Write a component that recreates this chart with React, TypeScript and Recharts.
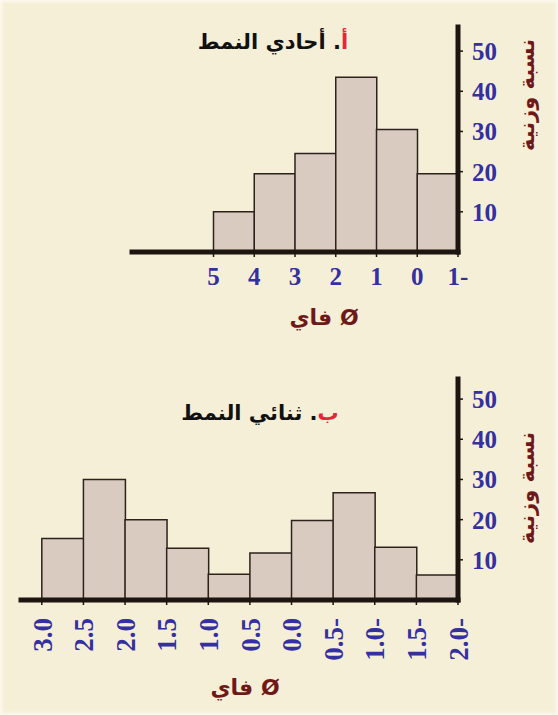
import React from 'react';
import { BarChart, Bar, XAxis, YAxis } from 'recharts';

// ---------- data ----------
const binEdgesA = [5, 4, 3, 2, 1, 0, -1];
const valuesA = [10, 19.5, 24.5, 43.5, 30.5, 19.5];
const xTicksA = [5, 4, 3, 2, 1, 0, -1];
const xTickLabelsA = ['5', '4', '3', '2', '1', '0', '1-'];

const binEdgesB = [3.0, 2.5, 2.0, 1.5, 1.0, 0.5, 0.0, -0.5, -1.0, -1.5, -2.0];
const valuesB = [15.3, 30, 20, 12.9, 6.4, 11.7, 19.8, 26.7, 13.1, 6.2];
const xTicksB = [3.0, 2.5, 2.0, 1.5, 1.0, 0.5, 0.0, -0.5, -1.0, -1.5, -2.0];
const xTickLabelsB = ['3.0', '2.5', '2.0', '1.5', '1.0', '0.5', '0.0', '0.5-', '1.0-', '1.5-', '2.0-'];

const yTicks = [10, 20, 30, 40, 50];

const titleLetterA = 'أ';
const titleRestA = '. أحادي النمط';
const titleLetterB = 'ب';
const titleRestB = '. ثنائي النمط';
const xAxisTitle = 'Ø فاي';
const yAxisTitle = 'نسبة وزنية';

// ---------- styles ----------
const BG = '#f6efd8';
const BAR_FILL = '#d9cbbf';
const BAR_STROKE = '#2d231c';
const AXIS = '#1c1510';
const TICK_BLUE = '#3430a0';
const DARK_RED = '#6e1818';
const TITLE_RED = '#e0283a';
const SERIF = 'Liberation Serif';
const ARABIC = '"DejaVu Sans", sans-serif';

const buildData = (edges: number[], values: number[]) =>
  values.map((v, i) => ({ mid: (edges[i] + edges[i + 1]) / 2, value: v }));

const dataA = buildData(binEdgesA, valuesA);
const dataB = buildData(binEdgesB, valuesB);

const labelFor = (ticks: number[], labels: string[], v: number) => {
  const i = ticks.findIndex((t) => Math.abs(t - v) < 1e-9);
  return i >= 0 ? labels[i] : String(v);
};

const YTick = (props: any) => {
  const { x, y, payload } = props;
  return (
    <text x={x} y={y} dy="0.36em" textAnchor="start" fill={TICK_BLUE}
      style={{ fontFamily: SERIF, fontSize: 25, fontWeight: 'bold' }}>
      {String(payload.value)}
    </text>
  );
};

const XTickA = (props: any) => {
  const { x, y, payload } = props;
  return (
    <text x={x} y={y} dy="0.71em" textAnchor="middle" fill={TICK_BLUE}
      style={{ fontFamily: SERIF, fontSize: 25, fontWeight: 'bold' }}>
      {labelFor(xTicksA, xTickLabelsA, payload.value)}
    </text>
  );
};

const XTickB = (props: any) => {
  const { x, y, payload } = props;
  return (
    <text x={x} y={y} dy="0.36em" textAnchor="end" fill={TICK_BLUE}
      transform={`rotate(-90, ${x}, ${y})`}
      style={{ fontFamily: SERIF, fontSize: 27, fontWeight: 'bold' }}>
      {labelFor(xTicksB, xTickLabelsB, payload.value)}
    </text>
  );
};

const axisLineStyle = { stroke: AXIS, strokeWidth: 5, strokeLinecap: 'square' as const };
const tickLineStyle = { stroke: AXIS, strokeWidth: 1.5 };

const Title = ({ letter, rest, cx, cy }: { letter: string; rest: string; cx: number; cy: number }) => (
  <div dir="rtl" style={{
    position: 'absolute', left: cx, top: cy, transform: 'translate(-50%, -50%)',
    whiteSpace: 'nowrap', fontFamily: ARABIC, fontWeight: 'bold', fontSize: 21, color: '#111',
    lineHeight: '26px',
  }}>
    <span style={{ color: TITLE_RED }}>{letter}</span>{rest}
  </div>
);

const XTitle = ({ cx, cy }: { cx: number; cy: number }) => (
  <div dir="rtl" style={{
    position: 'absolute', left: cx, top: cy, transform: 'translate(-50%, -50%)',
    whiteSpace: 'nowrap', fontFamily: ARABIC, fontWeight: 'bold', fontSize: 22, color: DARK_RED,
    lineHeight: '26px',
  }}>{xAxisTitle}</div>
);

const YTitle = ({ cx, cy }: { cx: number; cy: number }) => (
  <div dir="rtl" style={{
    position: 'absolute', left: cx, top: cy, transform: 'translate(-50%, -50%) rotate(-90deg)',
    whiteSpace: 'nowrap', fontFamily: ARABIC, fontWeight: 'bold', fontSize: 21, color: DARK_RED,
    lineHeight: '26px',
  }}>{yAxisTitle}</div>
);

export default function App() {
  return (
    <div style={{
      position: 'absolute', left: 0, top: 0, width: 558, height: 715, background: BG,
      overflow: 'hidden', boxShadow: 'inset 0 0 3px 2px #fcf9f0',
    }}>
      {/* Chart A */}
      <div style={{ position: 'absolute', left: 0, top: 0 }}>
        <BarChart width={558} height={340} data={dataA} barCategoryGap={0} barGap={0}
          margin={{ top: 27, right: 40, bottom: 48, left: 132 }}>
          <Bar dataKey="value" fill={BAR_FILL} stroke={BAR_STROKE} strokeWidth={1.5}
            isAnimationActive={false} />
          <XAxis type="number" dataKey="mid" domain={[-1, 7]} reversed ticks={xTicksA}
            interval={0} height={40} axisLine={axisLineStyle} tickLine={tickLineStyle}
            tickSize={5} tickMargin={10} tick={<XTickA />} />
          <YAxis type="number" orientation="right" domain={[0, 56]} ticks={yTicks}
            interval={0} width={60} axisLine={axisLineStyle} tickLine={tickLineStyle}
            tickSize={5} tickMargin={9} tick={<YTick />} />
        </BarChart>
      </div>
      <Title letter={titleLetterA} rest={titleRestA} cx={273} cy={42} />
      <XTitle cx={324} cy={318} />
      <YTitle cx={527} cy={95} />

      {/* Chart B */}
      <div style={{ position: 'absolute', left: 0, top: 340 }}>
        <BarChart width={558} height={375} data={dataB} barCategoryGap={0} barGap={0}
          margin={{ top: 39, right: 40, bottom: 55, left: 21 }}>
          <Bar dataKey="value" fill={BAR_FILL} stroke={BAR_STROKE} strokeWidth={1.5}
            isAnimationActive={false} />
          <XAxis type="number" dataKey="mid" domain={[-2, 3.25]} reversed ticks={xTicksB}
            interval={0} height={60} axisLine={axisLineStyle} tickLine={tickLineStyle}
            tickSize={5} tickMargin={13} tick={<XTickB />} />
          <YAxis type="number" orientation="right" domain={[0, 55]} ticks={yTicks}
            interval={0} width={60} axisLine={axisLineStyle} tickLine={tickLineStyle}
            tickSize={5} tickMargin={9} tick={<YTick />} />
        </BarChart>
      </div>
      <Title letter={titleLetterB} rest={titleRestB} cx={260} cy={413} />
      <XTitle cx={245} cy={688} />
      <YTitle cx={527} cy={488} />
    </div>
  );
}
